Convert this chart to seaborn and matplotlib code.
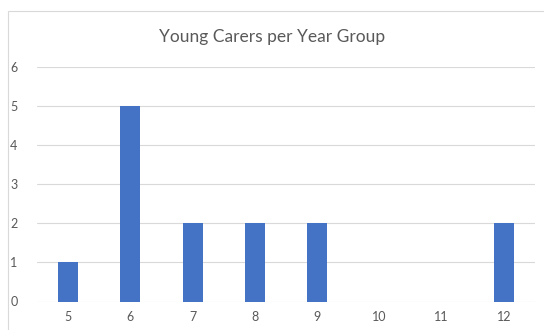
import matplotlib
matplotlib.use("Agg")
import matplotlib.pyplot as plt
import seaborn as sns
from matplotlib.patches import Rectangle

# data
year_groups = ["5", "6", "7", "8", "9", "10", "11", "12"]
young_carers = [1, 5, 2, 2, 2, 0, 0, 2]

sns.set_style("white")
plt.rcParams["font.family"] = ["Lato", "DejaVu Sans"]

fig = plt.figure(figsize=(5.44, 3.30), dpi=100)
ax = fig.add_axes([37 / 544, 1 - 301.5 / 330, 498 / 544, (301.5 - 67) / 330])

sns.barplot(x=year_groups, y=young_carers, color="#4472C4", width=0.32,
            saturation=1, linewidth=0, ax=ax)

ax.set_ylim(0, 6)
ax.set_yticks(range(0, 7))
ax.set_xlim(-0.5, len(year_groups) - 0.5)
ax.grid(axis="y", color="#d9d9d9", linewidth=0.8)
ax.set_axisbelow(True)
for s in ax.spines.values():
    s.set_visible(False)
ax.tick_params(axis="both", length=0, labelsize=9, colors="#595959", pad=7)
ax.tick_params(axis="y", pad=14)
ax.set_xlabel("")
ax.set_ylabel("")

fig.text(0.5, 1 - 37 / 330, "Young Carers per Year Group", ha="center",
         va="center", fontsize=12.5, color="#595959")

# chart frame
fig.patches.append(Rectangle((8 / 544, -0.1), 1.2, 1 - 11 / 330 + 0.1,
                             transform=fig.transFigure, fill=False,
                             edgecolor="#d9d9d9", linewidth=0.8))

fig.savefig("out.png", dpi=100)
